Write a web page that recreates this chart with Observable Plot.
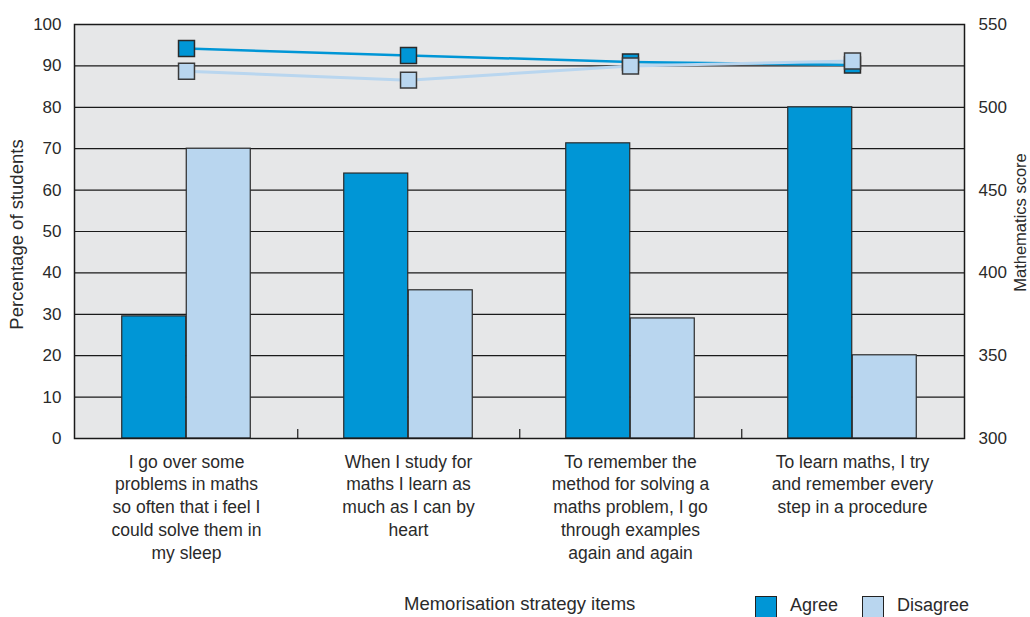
<!DOCTYPE html>
<html>
<head>
<meta charset="utf-8">
<script src="https://cdn.jsdelivr.net/npm/d3@7"></script>
<script src="https://cdn.jsdelivr.net/npm/@observablehq/plot@0.6"></script>
<style>
  html, body { margin: 0; padding: 0; background: #fff; overflow: hidden; }
  body { width: 1030px; height: 617px; font-family: "Liberation Sans", Arial, sans-serif; color: #2a2a2a; }
  #foot { position: relative; height: 40px; font-size: 18.5px; }
  #foot .t { position: absolute; top: 8px; white-space: nowrap; }
  #foot .sw { position: absolute; top: 11px; width: 22px; height: 26px; border: 1.5px solid #222; box-sizing: border-box; }
</style>
</head>
<body>
<div id="chart"></div>
<div id="foot"></div>
<script>
const categories = [
  "I go over some problems in maths so often that i feel I could solve them in my sleep",
  "When I study for maths I learn as much as I can by heart",
  "To remember the method for solving a maths problem, I go through examples again and again",
  "To learn maths, I try and remember every step in a procedure"
];
const tickLabels = [
  "I go over some\nproblems in maths\nso often that i feel I\ncould solve them in\nmy sleep",
  "When I study for\nmaths I learn as\nmuch as I can by\nheart",
  "To remember the\nmethod for solving a\nmaths problem, I go\nthrough examples\nagain and again",
  "To learn maths, I try\nand remember every\nstep in a procedure"
];
const series = ["Agree", "Disagree"];
const agreePct = [29.5, 64.0, 71.3, 80.0];
const disagreePct = [70.0, 35.8, 29.0, 20.1];
const agreeScore = [535.5, 531.3, 527.4, 525.5];
const disagreeScore = [521.8, 516.4, 525.0, 528.0];
const leftTicks = [0, 10, 20, 30, 40, 50, 60, 70, 80, 90, 100];
const rightTicks = [300, 350, 400, 450, 500, 550];
const scoreDomain = [300, 550];
const yLabel = "Percentage of students";
const y2Label = "Mathematics score";
const xLabel = "Memorisation strategy items";

const AGREE = "#0096d6";
const DISAGREE = "#b9d6ef";
const TEXT = "#2a2a2a";
const W = 1030, H = 585, ML = 74, MR = 66, MT = 24, MB = H - 438;
const step = (W - ML - MR) / categories.length;
const paddingInner = 0.71;
const barW = step * (1 - paddingInner);

const toPct = s => (s - scoreDomain[0]) / (scoreDomain[1] - scoreDomain[0]) * 100;
const fromPct = p => scoreDomain[0] + p / 100 * (scoreDomain[1] - scoreDomain[0]);

const rows = categories.map((c, i) => ({
  category: c,
  agree: agreePct[i],
  disagree: disagreePct[i],
  agreeScore: agreeScore[i],
  disagreeScore: disagreeScore[i]
}));

const chart = Plot.plot({
  width: W, height: H,
  marginLeft: ML, marginRight: MR, marginTop: MT, marginBottom: MB,
  style: { fontFamily: "'Liberation Sans', Arial, sans-serif", color: TEXT, background: "#fff" },
  x: { domain: categories, type: "band", paddingInner, paddingOuter: paddingInner / 2, align: 0.5 },
  y: { domain: [0, 100] },
  marks: [
    Plot.frame({ fill: "#e6e7e8", stroke: null }),
    Plot.ruleY(leftTicks.slice(1, -1), { stroke: "#1a1a1a", strokeWidth: 1.2 }),
    Plot.barY(rows, { x: "category", y: "agree", dx: -barW / 2, fill: AGREE, stroke: "#2a2a2a", strokeWidth: 1.2 }),
    Plot.barY(rows, { x: "category", y: "disagree", dx: barW / 2, fill: DISAGREE, stroke: "#2a2a2a", strokeWidth: 1.2 }),
    Plot.ruleX(categories.slice(0, -1), { x: d => d, dx: step / 2, y1: 0, y2: 2.2, stroke: "#1a1a1a", strokeWidth: 1.2 }),
    Plot.frame({ stroke: "#1a1a1a", strokeWidth: 1.5 }),
    Plot.lineY(rows, { x: "category", y: d => toPct(d.agreeScore), stroke: AGREE, strokeWidth: 2.5 }),
    Plot.lineY(rows, { x: "category", y: d => toPct(d.disagreeScore), stroke: DISAGREE, strokeWidth: 3 }),
    Plot.dot(rows, { x: "category", y: d => toPct(d.agreeScore), symbol: "square", r: 9, fill: AGREE, stroke: "#2a2a2a", strokeWidth: 1.5 }),
    Plot.dot(rows, { x: "category", y: d => toPct(d.disagreeScore), symbol: "square", r: 9, fill: DISAGREE, stroke: "#3a3a3a", strokeWidth: 1.5 }),
    Plot.axisY(leftTicks, {
      anchor: "left", tickSize: 0, tickPadding: 13, fontSize: 17, color: TEXT, label: null
    }),
    Plot.axisY(rightTicks.map(toPct), {
      anchor: "right", tickSize: 0, tickPadding: 14, fontSize: 17, color: TEXT,
      tickFormat: d => String(Math.round(fromPct(d))), label: null
    }),
    Plot.text([yLabel], {
      text: d => d, frameAnchor: "left", rotate: -90, dx: -57, dy: 3,
      fontSize: 18.5, fill: TEXT, lineAnchor: "middle", textAnchor: "middle"
    }),
    Plot.text([y2Label], {
      text: d => d, frameAnchor: "right", rotate: -90, dx: 56, dy: -9,
      fontSize: 16.5, fill: TEXT, lineAnchor: "middle", textAnchor: "middle"
    }),
    Plot.axisX({
      tickSize: 0, tickPadding: 13, fontSize: 17.5, lineHeight: 1.3, color: TEXT,
      tickFormat: d => tickLabels[categories.indexOf(d)], label: null
    })
  ]
});
document.getElementById("chart").appendChild(chart);

const foot = document.getElementById("foot");
const colors = [AGREE, DISAGREE];
foot.innerHTML =
  `<div class="t" style="left:404px">${xLabel}</div>` +
  series.map((s, i) => {
    const x = [755, 862][i];
    return `<div class="sw" style="left:${x}px;background:${colors[i]}"></div>` +
           `<div class="t" style="left:${x + 35}px;top:10px;font-size:18px">${s}</div>`;
  }).join("");
</script>
</body>
</html>
